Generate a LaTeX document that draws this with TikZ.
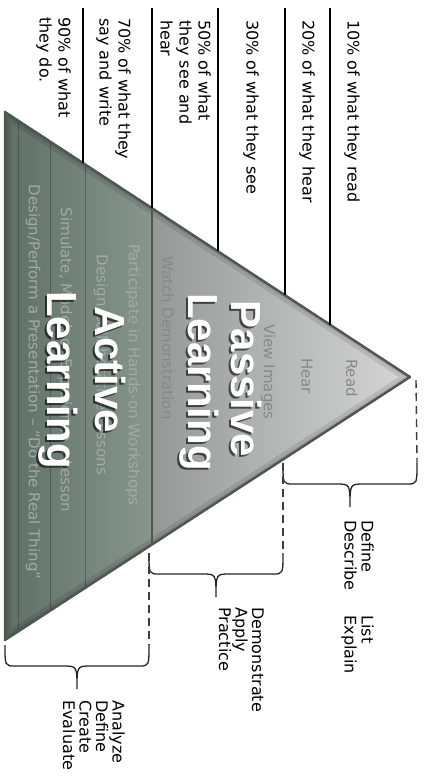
\documentclass[tikz,border=0pt]{standalone}
\usepackage{fontspec}
\setmainfont{DejaVu Sans}
\newfontfamily\bigfont{Liberation Sans}
\usetikzlibrary{calc}

\definecolor{edgecol}{RGB}{78,86,82}
\definecolor{passL}{RGB}{150,152,152}
\definecolor{passR}{RGB}{214,214,214}
\definecolor{actL}{RGB}{96,112,102}
\definecolor{actR}{RGB}{136,150,141}
\definecolor{innerP}{RGB}{135,135,135}
\definecolor{innerA}{RGB}{160,171,164}
\definecolor{dashcol}{RGB}{60,60,60}

\tikzset{
  pct/.style={rotate=-90, anchor=north west, inner sep=0pt, align=left, font=\fontsize{16}{19}\selectfont},
  brlab/.style={rotate=-90, anchor=north west, inner sep=0pt, align=left, font=\fontsize{16}{16.5}\selectfont},
  big/.style={rotate=-90, anchor=base, inner sep=0pt, text=white, font=\bigfont\bfseries\fontsize{42}{44}\selectfont},
  bigshadow/.style={big, text=black, opacity=0.6},
  innertext/.style={rotate=-90, anchor=center, inner sep=0pt, font=\fontsize{15}{17}\selectfont},
  pline/.style={line width=1.7pt, black},
  dline/.style={dashcol, line width=1.4pt, dash pattern=on 8pt off 5pt},
  brc/.style={line width=1.3pt, black!85},
  stripline/.style={line width=0.9pt, black, opacity=0.25},
}

\newcommand\mkbrace[4]{%
  \coordinate (#1l) at (#2,#4);
  \coordinate (#1r) at (#3,#4);
  \coordinate (#1t) at ({(#2+#3)/2},#4+44);
  \draw[brc] (#1l) .. controls (#2,#4+21) .. (#2+10,#4+21)
    -- ({(#2+#3)/2-14},#4+21) .. controls ({(#2+#3)/2},#4+21) .. (#1t)
    .. controls ({(#2+#3)/2},#4+21) .. ({(#2+#3)/2+14},#4+21)
    -- (#3-10,#4+21) .. controls (#3,#4+21) .. (#1r);
}

\begin{document}
\begin{tikzpicture}[x=1pt,y=-1pt]
\useasboundingbox (0,0) rectangle (425,776);
\fill[white] (0,0) rectangle (425,776);

% triangle corners
\coordinate (T) at (5,112);
\coordinate (A) at (410,377);
\coordinate (B) at (5,640);
\coordinate (Sp) at (152,208.2);
\coordinate (Sb) at (152,544.5);

% fills
\fill[left color=passL, right color=passR] (Sp) -- (A) -- (Sb) -- cycle;
\fill[left color=actL, right color=actR] (T) -- (Sp) -- (Sb) -- (B) -- cycle;
\begin{scope}
  \clip (T) -- (A) -- (B) -- cycle;
  \draw[line width=12pt, black, opacity=0.10] (T) -- (A) -- (B) -- cycle;
  \draw[line width=5pt, black, opacity=0.10] (T) -- (A) -- (B) -- cycle;
\end{scope}

% strip lines in active part
\draw[stripline] (85,164.3) -- (85,588);
\draw[stripline] (50,141.4) -- (50,610.8);
\draw[stripline] (18,120.5) -- (18,631.6);

% faint inner texts
\node[innertext, text=innerP] (tRead) at (352,378) {Read};
\node[innertext, text=innerP] (tHear) at (307,376) {Hear};
\node[innertext, text=innerP] (tView) at (268,372) {View Images};
\node[innertext, text=innerP] (tWatch) at (168,338) {Watch Demonstration};
\node[innertext, text=innerA] (tPart) at (133,375) {Participate in Hands-on Workshops};
\node[innertext, text=innerA] (tDes) at (101,365) {Design Collaborative Lessons};
\node[innertext, text=innerA] (tSim) at (65,360) {Simulate, Model, or Experience a Lesson};
\node[innertext, text=innerA] (tDo) at (33,382) {Design/Perform a Presentation – “Do the Real Thing”};

% separator and outline
\draw[line width=2.6pt, edgecol] (Sp) -- (Sb);
\draw[line width=2.4pt, edgecol, line join=round] (T) -- (A) -- (B) -- cycle;

% big labels
\node[bigshadow] (pw1s) at (229,381) {Passive};
\node[big] (pw1) at (231,379) {Passive};
\node[bigshadow] (pw2s) at (186,384) {Learning};
\node[big] (pw2) at (188,382) {Learning};
\node[bigshadow] (aw1s) at (93,372) {Active};
\node[big] (aw1) at (95,370) {Active};
\node[bigshadow] (aw2s) at (45,382) {Learning};
\node[big] (aw2) at (47,380) {Learning};

% percentage lines
\coordinate (l10a) at (330,8);  \coordinate (l10b) at (330,324.6);
\coordinate (l20a) at (285,8);  \coordinate (l20b) at (285,295.2);
\coordinate (l30a) at (218,8);  \coordinate (l30b) at (218,251.4);
\coordinate (l50a) at (152,8);
\coordinate (l70a) at (83,8);   \coordinate (l70b) at (83,163.0);
\draw[pline] (l10a) -- (l10b);
\draw[pline] (l20a) -- (l20b);
\draw[pline] (l30a) -- (l30b);
\draw[pline] (l50a) -- (Sp);
\draw[pline] (l70a) -- (l70b);

% percentage labels
\node[pct] (p10) at (360,20) {10\% of what they read};
\node[pct] (p20) at (315,20) {20\% of what they hear};
\node[pct] (p30) at (259,20) {30\% of what they see};
\node[pct] (p50) at (211,20) {50\% of what\\they see and\\hear};
\node[pct] (p70) at (131,18) {70\% of what they\\say and write};
\node[pct] (p90) at (71,17) {90\% of what\\they do.};

% braces
\mkbrace{b1}{283}{417}{463}
\mkbrace{b2}{149}{283}{553}
\mkbrace{b3}{5}{149}{645}

% dashed guides
\coordinate (Ad) at (416,380);
\draw[dline] (Ad) -- (b1r);
\draw[dline] (b1l) -- (b2r);
\draw[dline] (b2l) -- (b3r);

% brace labels
\node[brlab] (bl1) at (374,520) {\begin{tabular}{@{}l@{\hspace{25pt}}l@{}}Define & List\\Describe & Explain\end{tabular}};
\node[brlab] (bl2) at (264,607) {Demonstrate\\Apply\\Practice};
\node[brlab] (bl3) at (125,700) {Analyze\\Define\\Create\\Evaluate};
\end{tikzpicture}
\end{document}
